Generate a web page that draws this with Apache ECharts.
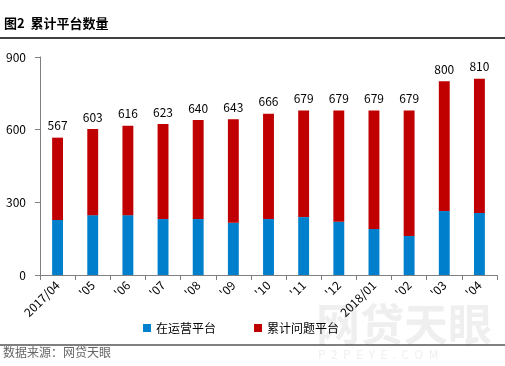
<!DOCTYPE html>
<html><head><meta charset="utf-8">
<script src="https://cdn.jsdelivr.net/npm/echarts@6/dist/echarts.min.js"></script>
<style>html,body{margin:0;padding:0;background:#fff}#c{width:505px;height:366px}</style>
</head><body><div id="c"></div>
<script>
const categories = ["2017/04","'05","'06","'07","'08","'09","'10","'11","'12","2018/01","'02","'03","'04"];
const totals = [567,603,616,623,640,643,666,679,679,679,679,800,810];
const operating = [227,247,247,231,231,216,231,239,220,190,161,264,256];
const problem = totals.map((t,i)=>t-operating[i]);
const yTicks = [0,300,600,900];

const chart = echarts.init(document.getElementById('c'));
const font = '"Microsoft YaHei","Noto Sans CJK SC",sans-serif';
chart.setOption({
  animation:false,
  textStyle:{fontFamily:font},
  grid:{left:40,right:8,top:57,bottom:91},
  graphic:[
    {type:'text',left:4,top:17,style:{text:'图2  累计平台数量',font:'bold 13px '+font,fill:'#000'}},
    {type:'line',shape:{x1:0,y1:38,x2:505,y2:38},style:{stroke:'#000',lineWidth:1.5}},
    {type:'line',shape:{x1:0,y1:345,x2:505,y2:345},style:{stroke:'#000',lineWidth:1}},
    {type:'text',left:3,top:346,style:{text:'数据来源：网贷天眼',font:'12px '+font,fill:'#666'}},
    {type:'text',left:316,top:302,z:-1,style:{text:'网贷天眼',font:'bold 44px '+font,fill:'#efefef'}},
    {type:'text',left:318,top:348,z:-1,style:{text:'P  2  P  E  Y  E  .  C  O  M',font:'12px '+font,fill:'#f0f0f0'}}
  ],
  legend:{top:317,left:138,itemWidth:8,itemHeight:8,itemGap:38,icon:'rect',
    textStyle:{fontSize:12,color:'#000',fontFamily:font},
    data:['在运营平台','累计问题平台']},
  xAxis:{type:'category',data:categories,
    axisLine:{lineStyle:{color:'#808080',width:1}},
    axisTick:{show:true,alignWithLabel:false,length:5,lineStyle:{color:'#808080'}},
    axisLabel:{rotate:45,color:'#000',fontSize:12,interval:0,margin:8,fontFamily:font}},
  yAxis:{type:'value',min:0,max:900,interval:300,
    axisLine:{show:true,lineStyle:{color:'#808080'}},
    axisTick:{show:true,inside:false,length:5,lineStyle:{color:'#808080'}},
    splitLine:{show:false},
    axisLabel:{color:'#000',fontSize:12,margin:14,formatter:v=>yTicks.includes(v)?String(v):''}},
  series:[
    {name:'在运营平台',type:'bar',stack:'a',data:operating,barWidth:'31%',itemStyle:{color:'#0080CC'}},
    {name:'累计问题平台',type:'bar',stack:'a',data:problem,barWidth:'31%',itemStyle:{color:'#C00000'},
      label:{show:true,position:'top',color:'#000',fontSize:12,distance:6,formatter:p=>String(totals[p.dataIndex])}}
  ]
});
</script></body></html>
